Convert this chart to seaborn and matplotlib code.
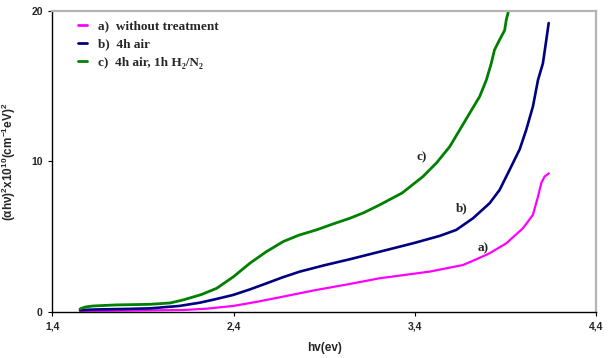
import matplotlib
matplotlib.use("Agg")
import matplotlib.pyplot as plt
import seaborn as sns
import pandas as pd
from matplotlib.lines import Line2D
from matplotlib.ticker import FuncFormatter

# Photon energy (eV) and (alpha h nu)^2 x 1e-10 for each sample
energy_a = [1.552, 1.8, 2.121, 2.25, 2.397, 2.53, 2.673, 2.85, 3.041, 3.206,
            3.482, 3.666, 3.74, 3.813, 3.905, 3.997, 4.052, 4.08, 4.098,
            4.116, 4.14]
signal_a = [0.07, 0.09, 0.13, 0.22, 0.4, 0.68, 1.02, 1.45, 1.86, 2.24,
            2.68, 3.12, 3.5, 3.9, 4.56, 5.56, 6.45, 7.66, 8.55,
            8.99, 9.2]

energy_b = [1.552, 1.65, 1.8, 1.938, 2.1, 2.214, 2.30, 2.397, 2.49, 2.581,
            2.67, 2.765, 2.90, 3.041, 3.206, 3.39, 3.537, 3.629, 3.721, 3.813,
            3.868, 3.923, 3.979, 4.015, 4.052, 4.08, 4.107, 4.126, 4.139]
signal_b = [0.13, 0.17, 0.2, 0.24, 0.4, 0.62, 0.85, 1.13, 1.5, 1.9,
            2.3, 2.68, 3.1, 3.5, 4.0, 4.56, 5.05, 5.45, 6.22, 7.22,
            8.1, 9.43, 10.8, 12.09, 13.64, 15.4, 16.5, 18.07, 19.18]

energy_c = [1.552, 1.58, 1.625, 1.75, 1.938, 2.05, 2.121, 2.22, 2.306, 2.40,
            2.489, 2.58, 2.673, 2.76, 2.857, 2.95, 3.041, 3.12, 3.206, 3.33,
            3.445, 3.52, 3.593, 3.648, 3.703, 3.758, 3.795, 3.822, 3.84, 3.868,
            3.896, 3.905, 3.92]
signal_c = [0.2, 0.33, 0.4, 0.47, 0.51, 0.6, 0.8, 1.15, 1.57, 2.35,
            3.23, 4.0, 4.67, 5.1, 5.45, 5.85, 6.22, 6.6, 7.11, 7.9,
            8.99, 9.9, 10.98, 12.09, 13.2, 14.3, 15.4, 16.5, 17.4, 18.07,
            18.7, 19.4, 20.1]

labels = ["a)  without treatment", "b)  4h air", "c)  4h air, 1h H\u2082/N\u2082"]
tags = ["a)", "b)", "c)"]
tag_x = [3.775, 3.657, 3.44]
tag_y = [4.23, 6.9, 10.3]
colors = ["#FF00FF", "#000080", "#008000"]
widths = [1.6, 1.9, 2.0]
x_ticks = [1.4, 2.4, 3.4, 4.4]
y_ticks = [0, 10, 20]

frames = []
for lab, xs, ys in zip(labels,
                       [energy_a, energy_b, energy_c],
                       [signal_a, signal_b, signal_c]):
    frames.append(pd.DataFrame({"energy": xs, "signal": ys, "sample": lab}))
df = pd.concat(frames, ignore_index=True)

sns.set_style("white")
plt.rcParams["mathtext.fontset"] = "custom"
plt.rcParams["mathtext.rm"] = "Liberation Sans:bold"
plt.rcParams["mathtext.it"] = "Liberation Sans:bold"
plt.rcParams["mathtext.bf"] = "Liberation Sans:bold"
plt.rcParams["mathtext.default"] = "rm"

fig = plt.figure(figsize=(6.08, 3.58), dpi=100)
ax = fig.add_axes([0.0863, 0.1285, 0.8939, 0.8416])

for lab, col, lw in zip(labels, colors, widths):
    sns.lineplot(data=df[df["sample"] == lab], x="energy", y="signal",
                 color=col, linewidth=lw, ax=ax, legend=False,
                 estimator=None, sort=False)

ax.set_xlim(1.4, 4.4)
ax.set_ylim(0, 20)
ax.set_xticks(x_ticks)
ax.set_yticks(y_ticks)
ax.xaxis.set_major_formatter(FuncFormatter(lambda v, p: f"{v:.1f}".replace(".", ",")))
ax.yaxis.set_major_formatter(FuncFormatter(lambda v, p: f"{v:.0f}"))
ax.tick_params(axis="both", which="major", direction="out", length=3,
               width=0.8, color="black", labelsize=7.5, pad=4,
               bottom=True, left=True)
for t in ax.get_xticklabels() + ax.get_yticklabels():
    t.set_fontfamily("Liberation Sans")
    t.set_fontweight("bold")

for side in ("left", "bottom"):
    ax.spines[side].set_color("black")
    ax.spines[side].set_linewidth(1.0)
for side in ("top", "right"):
    ax.spines[side].set_visible(True)
    ax.spines[side].set_color("#b4b4b4")
    ax.spines[side].set_linewidth(1.6)

ax.set_xlabel("hv(ev)", fontfamily="Liberation Sans", fontweight="bold",
              fontsize=8.5, va="center")
ax.xaxis.set_label_coords(0.5, -0.118)
ax.set_ylabel(r"$(\alpha h\nu)^2x10^{10}(cm^{-1}eV)^2$", fontsize=8.5,
              fontfamily="Liberation Sans", fontweight="bold")
ax.yaxis.set_label_coords(-0.063, 0.5)

# curve tags
tag_font = dict(family="Liberation Serif", weight="bold", fontsize=9.5)
for tg, tx, ty in zip(tags, tag_x, tag_y):
    ax.text(tx, ty, tg, ha="center", va="center", **tag_font)

handles = [Line2D([0], [0], color=c, linewidth=2) for c in colors]
leg = ax.legend(handles, labels, loc="upper left",
                bbox_to_anchor=(0.047, 0.968), borderaxespad=0, borderpad=0,
                frameon=False, handlelength=0.7, handletextpad=0.8,
                labelspacing=0.45,
                prop={"family": ["Liberation Serif", "DejaVu Serif"],
                      "weight": "bold", "size": 9.5})

fig.savefig("out.png", dpi=100)
